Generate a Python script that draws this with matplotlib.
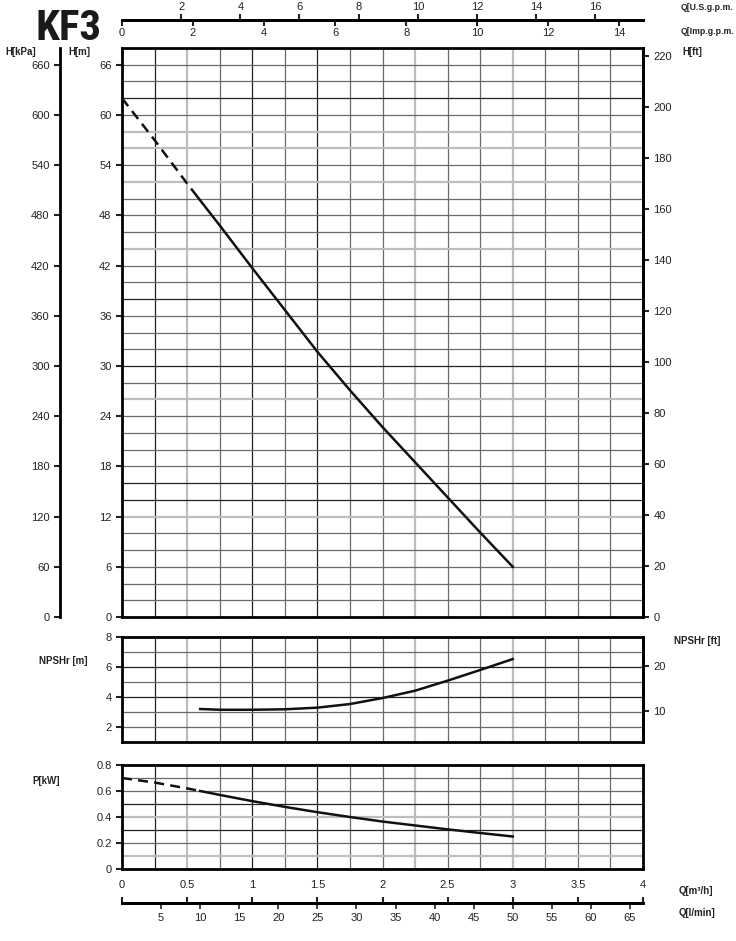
import numpy as np
import matplotlib
matplotlib.use('Agg')
import matplotlib.pyplot as plt

plt.rcParams['font.family'] = ['Liberation Sans', 'DejaVu Sans']

# curva H (m) - tramo discontinuo y tramo continuo
q_h_dash = [0.0, 0.25, 0.5, 0.58]
h_dash = [62.0, 57.0, 51.8, 50.2]
q_h = [0.58, 0.75, 1.0, 1.25, 1.5, 1.75, 2.0, 2.25, 2.5, 2.75, 3.0]
h_m = [50.2, 46.8, 41.7, 36.7, 31.7, 27.1, 22.7, 18.5, 14.3, 10.1, 6.0]

# NPSHr (m)
q_npsh = [0.6, 0.75, 1.0, 1.25, 1.5, 1.75, 2.0, 2.25, 2.5, 2.75, 3.0]
npsh_m = [3.2, 3.15, 3.15, 3.18, 3.29, 3.53, 3.93, 4.42, 5.09, 5.8, 6.53]

# potencia (kW)
q_p_dash = [0.0, 0.25, 0.5, 0.6]
p_dash = [0.70, 0.665, 0.62, 0.60]
q_p = [0.6, 0.75, 1.0, 1.25, 1.5, 1.75, 2.0, 2.25, 2.5, 2.75, 3.0]
p_kw = [0.60, 0.57, 0.522, 0.478, 0.437, 0.40, 0.365, 0.335, 0.305, 0.277, 0.25]

# ticks
h_ticks = list(range(0, 67, 6))
kpa_ticks = list(range(0, 661, 60))
ft_ticks = list(range(0, 221, 20))
npsh_ticks = [2, 4, 6, 8]
npsh_ft_ticks = [10, 20]
p_ticks = [0, 0.2, 0.4, 0.6, 0.8]
q_ticks = [0, 0.5, 1, 1.5, 2, 2.5, 3, 3.5, 4]
lmin_ticks = list(range(5, 66, 5))
usgpm_ticks = list(range(2, 17, 2))
impgpm_ticks = list(range(0, 15, 2))

W, H = 736, 941
fig = plt.figure(figsize=(W / 100, H / 100), dpi=100)

def fx(px):
    return px / W

def fy(py):
    return 1 - py / H

left = fx(122)
width = fx(643) - left

DARK, MED, LIGHT = '#222222', '#6a6a6a', '#bdbdbd'
vgrid = {0.25: DARK, 0.5: LIGHT, 0.75: MED, 1.0: DARK, 1.25: MED, 1.5: DARK, 1.75: MED,
         2.0: MED, 2.25: LIGHT, 2.5: MED, 2.75: MED, 3.0: LIGHT, 3.25: MED, 3.5: MED, 3.75: MED}

def rejilla(ax, hlines, light_h=(), dark_h=()):
    for q, c in vgrid.items():
        ax.axvline(q, color=c, lw=1.6 if c == LIGHT else 0.9, zorder=1)
    for v in hlines:
        if v in light_h:
            c, lw = LIGHT, 1.6
        elif v in dark_h:
            c, lw = DARK, 0.9
        else:
            c, lw = MED, 0.9
        ax.axhline(v, color=c, lw=lw, zorder=1)

def marco(ax):
    for s in ax.spines.values():
        s.set_linewidth(2.0)
    ax.tick_params(labelsize=8, width=1.5, length=4, colors='#222222')

# ---- panel H ----
ax = fig.add_axes([left, fy(617), width, fy(48) - fy(617)])
ax.set_xlim(0, 4)
ax.set_ylim(0, 68)
rejilla(ax, list(range(2, 68, 2)), light_h=(12, 26, 44, 52, 56, 58),
        dark_h=(62, 38, 30, 16, 14))
ax.plot(q_h_dash, h_dash, color='#111111', lw=1.8, ls=(0, (4, 2.5)), zorder=3)
ax.plot(q_h, h_m, color='#111111', lw=1.8, zorder=3)
ax.set_xticks([])
ax.set_yticks(h_ticks)
marco(ax)

axk = ax.twinx()
axk.set_ylim(0, 680)
axk.spines['left'].set_position(('outward', (122 - 60) * 0.72))
axk.yaxis.set_ticks_position('left')
axk.yaxis.set_label_position('left')
for s in ['right', 'top', 'bottom']:
    axk.spines[s].set_visible(False)
axk.spines['left'].set_linewidth(2.0)
axk.set_yticks(kpa_ticks)
axk.tick_params(labelsize=8, width=1.5, length=4, colors='#222222')

axf = ax.twinx()
axf.set_ylim(0, 68 / 0.3048)
for s in ['left', 'top', 'bottom']:
    axf.spines[s].set_visible(False)
axf.spines['right'].set_linewidth(2.0)
axf.set_yticks(ft_ticks)
axf.tick_params(labelsize=8, width=1.5, length=4, colors='#222222')

# ---- panel NPSH ----
an = fig.add_axes([left, fy(742), width, fy(637) - fy(742)])
an.set_xlim(0, 4)
an.set_ylim(1, 8)
rejilla(an, [2, 3, 4, 5, 6, 7], dark_h=(4, 6))
an.plot(q_npsh, npsh_m, color='#111111', lw=1.8, zorder=3)
an.set_xticks([])
an.set_yticks(npsh_ticks)
marco(an)
anf = an.twinx()
anf.set_ylim(1 / 0.3048, 8 / 0.3048)
for s in ['left', 'top', 'bottom']:
    anf.spines[s].set_visible(False)
anf.spines['right'].set_linewidth(2.0)
anf.set_yticks(npsh_ft_ticks)
anf.tick_params(labelsize=8, width=1.5, length=4, colors='#222222')

# ---- panel P ----
ap = fig.add_axes([left, fy(869), width, fy(765) - fy(869)])
ap.set_xlim(0, 4)
ap.set_ylim(0, 0.8)
rejilla(ap, [0.1, 0.2, 0.3, 0.4, 0.5, 0.6, 0.7], light_h=(0.1, 0.4), dark_h=(0.5, 0.3))
ap.plot(q_p_dash, p_dash, color='#111111', lw=1.8, ls=(0, (4, 2.5)), zorder=3)
ap.plot(q_p, p_kw, color='#111111', lw=1.8, zorder=3)
ap.set_xticks([])
ap.set_yticks(p_ticks)
ap.set_yticklabels(['0', '0.2', '0.4', '0.6', '0.8'])
marco(ap)

# ---- escalas de caudal ----
def escala(y_px):
    a = fig.add_axes([left, fy(y_px), width, 0.0001])
    a.set_xlim(0, 4)
    a.set_yticks([])
    for s in ['left', 'right', 'top']:
        a.spines[s].set_visible(False)
    a.spines['bottom'].set_linewidth(2.0)
    a.patch.set_visible(False)
    return a

qb = escala(903)
qb.xaxis.tick_top()
qb.set_xticks(q_ticks)
qb.set_xticklabels(['0', '0.5', '1', '1.5', '2', '2.5', '3', '3.5', '4'])
qb.tick_params(labelsize=8, width=1.5, length=4, pad=5, colors='#222222')
qb2 = qb.secondary_xaxis('bottom', functions=(lambda q: q * 1000 / 60, lambda l: l * 60 / 1000))
qb2.set_xticks(lmin_ticks)
qb2.tick_params(labelsize=8, width=1.2, length=4, pad=3, colors='#222222')
qb2.spines['bottom'].set_linewidth(2.0)

qt = escala(20)
qt.set_xticks([])
qt1 = qt.secondary_xaxis('top', functions=(lambda q: q * 4.4029, lambda g: g / 4.4029))
qt1.set_xticks(usgpm_ticks)
qt1.tick_params(labelsize=8, width=1.5, length=4, pad=2, colors='#222222')
qt1.spines['top'].set_visible(False)
qt2 = qt.secondary_xaxis('bottom', functions=(lambda q: q * 3.6662, lambda g: g / 3.6662))
qt2.set_xticks(impgpm_ticks)
qt2.tick_params(labelsize=8, width=1.5, length=4, pad=2, colors='#222222')
qt2.spines['bottom'].set_linewidth(2.0)

# ---- textos ----
fig.text(fx(35), fy(28), 'KF3', fontsize=31, fontweight='bold', fontstretch='condensed',
         family=['Roboto Condensed', 'DejaVu Sans'], color='#1a1a1a', va='center', ha='left')
etq = dict(fontsize=7, fontweight='bold', color='#222222', va='center', ha='left')
fig.text(fx(5), fy(52), 'H[kPa]', **etq)
fig.text(fx(68), fy(52), 'H[m]', **etq)
fig.text(fx(682), fy(52), 'H[ft]', **etq)
etq_q = dict(etq, fontsize=6.3)
fig.text(fx(681), fy(8), 'Q[U.S.g.p.m.', **etq_q)
fig.text(fx(681), fy(31), 'Q[Imp.g.p.m.', **etq_q)
fig.text(fx(39), fy(661), 'NPSHr [m]', **etq)
fig.text(fx(674), fy(641), 'NPSHr [ft]', **etq)
fig.text(fx(32), fy(781), 'P[kW]', **etq)
fig.text(fx(679), fy(891), 'Q[m³/h]', **etq)
fig.text(fx(679), fy(913), 'Q[l/min]', **etq)

fig.savefig('out.png', dpi=100)
